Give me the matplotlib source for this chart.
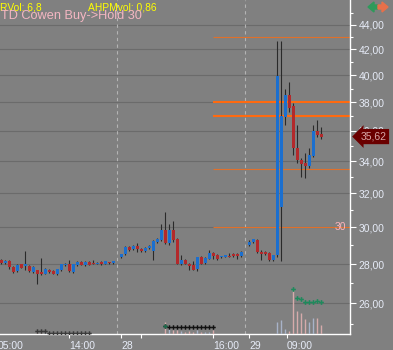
import numpy as np
import matplotlib
matplotlib.use("Agg")
import matplotlib.pyplot as plt
import matplotlib.transforms as mtransforms
from matplotlib.patches import FancyArrow

plt.rcParams['font.family'] = ['Liberation Sans', 'DejaVu Sans']

# --- day 1 (05:00 ... ) ---
o1 = [28.20, 28.05, 28.16, 27.84, 27.62, 27.98, 27.88, 27.90, 27.58, 27.67, 27.58, 27.50, 27.71, 27.63, 27.46,
      27.67, 27.93, 28.00, 27.58, 27.93, 28.10, 27.93, 28.10, 28.02, 28.00, 28.10, 28.00, 28.10, 28.03]
h1 = [28.26, 28.22, 28.20, 27.88, 27.98, 28.02, 28.69, 27.95, 27.90, 27.70, 28.32, 27.80, 27.76, 27.67, 27.76,
      28.02, 28.05, 28.20, 28.02, 28.16, 28.14, 28.14, 28.14, 28.20, 28.12, 28.14, 28.18, 28.12, 28.16]
l1 = [27.98, 27.98, 27.76, 27.55, 27.58, 27.78, 27.67, 27.58, 27.55, 26.98, 27.42, 27.46, 27.55, 27.46, 27.42,
      27.62, 27.90, 27.60, 27.55, 27.90, 27.93, 27.90, 27.93, 27.98, 27.98, 27.96, 27.98, 28.00, 28.00]
c1 = [28.05, 28.16, 27.84, 27.58, 27.93, 27.81, 27.98, 27.62, 27.84, 27.46, 27.50, 27.76, 27.58, 27.50, 27.73,
      27.98, 28.00, 27.63, 27.98, 28.10, 27.96, 28.10, 27.96, 28.00, 28.08, 28.00, 28.14, 28.03, 28.14]
vol1 = [0] * 9 + [1.6, 1.6, 1.8, 1.5, 1.5, 1.6, 1.5, 1.6, 1.5, 1.6, 1.5, 1.6, 1.5, 1.5] + [0] * 6
dots1 = [np.nan] * 9 + [3, 3, 3, 1.6, 1.6, 1.6, 1.6, 1.6, 1.6, 1.6, 1.6, 1.6, 1.6, 1.6] + [np.nan] * 6

# --- day 2 (28) ---
o2 = [28.38, 28.56, 28.92, 28.80, 28.97, 28.83, 28.70, 28.86, 28.70, 29.19, 29.29, 29.88, 29.14, 29.88, 29.38,
      27.98, 28.20, 28.02, 27.93, 27.73, 28.36, 28.05, 28.29, 28.59, 28.47, 28.35, 28.38, 28.40, 28.56, 28.56, 28.42]
h2 = [28.55, 28.95, 28.97, 29.02, 29.14, 28.86, 28.92, 29.00, 29.28, 29.42, 30.19, 30.88, 30.19, 30.38, 29.42,
      28.47, 28.26, 28.05, 28.16, 28.40, 28.42, 28.36, 28.74, 28.65, 28.52, 28.45, 28.50, 28.59, 28.60, 28.60, 28.70]
l2 = [28.32, 28.50, 28.70, 28.76, 28.65, 28.66, 28.66, 28.83, 28.20, 29.15, 29.25, 29.10, 29.05, 29.20, 27.98,
      27.95, 27.98, 27.67, 27.66, 27.62, 27.98, 27.98, 28.26, 28.28, 28.20, 28.32, 28.35, 28.36, 28.40, 28.29, 28.40]
c2 = [28.52, 28.92, 28.74, 28.97, 28.80, 28.70, 28.88, 28.97, 29.24, 29.38, 29.88, 29.14, 29.88, 29.29, 28.02,
      28.20, 28.02, 27.88, 27.71, 28.36, 28.02, 28.30, 28.59, 28.42, 28.29, 28.42, 28.47, 28.38, 28.42, 28.42, 28.65]
vol2 = [0] * 11 + [12.6, 6, 4, 4, 3, 2.5, 3, 2.5, 4, 2, 2, 2.5, 4] + [0] * 7
dots2 = [np.nan] * 11 + [8.3] + [7] * 12 + [np.nan] * 7

# --- day 3 (29) ---
o3 = [29.01, 29.19, 29.29, 28.65, 28.65, 28.59, 28.20, 28.47, 31.19, 36.98, 38.52, 37.73, 34.87, 34.11, 33.90,
      33.68, 34.33, 35.99, 35.80]
h3 = [29.28, 29.36, 29.33, 28.74, 28.68, 28.62, 28.50, 42.66, 42.66, 38.94, 39.46, 37.92, 36.40, 34.22, 34.50,
      34.83, 36.40, 36.75, 36.24]
l3 = [28.95, 29.15, 28.60, 28.20, 28.47, 28.16, 28.16, 28.38, 28.14, 36.40, 37.32, 34.39, 33.86, 33.01, 32.91,
      33.54, 34.28, 35.56, 35.45]
c3 = [29.19, 29.33, 28.65, 28.56, 28.52, 28.20, 28.47, 39.95, 37.02, 38.52, 37.61, 34.83, 34.07, 33.81, 33.68,
      34.39, 35.99, 35.71, 35.62]
vol3 = [0] * 7 + [12.6, 14.3, 5.3, 3.6, 44.3, 23.3, 21.6, 15, 12.6, 16.6, 16.6, 9.3]
dots3 = [np.nan] * 11 + [45, 36, 35, 32.6, 32, 32, 33, 32]

last_price = 35.62
levels_thick = [38.0, 37.0]
levels_thin = [43.0, 33.5, 30.0]
price_ticks = [26, 28, 30, 32, 34, 36, 38, 40, 42, 44]
minor_ticks = [25, 27, 29, 31, 33, 35, 37, 39, 41, 43, 45]
time_ticks = [17, 30, 35, 53, 62, 71.5]
time_labels = ['14:00', '28', '', '16:00', '29', '09:00']

BG = '#808080'
BLUE = '#1b6fcf'
RED = '#b3292b'
WICK = '#2a2a2a'
TXT = '#e6ebf7'

# positions, one empty slot between days
s2 = len(o1) + 1
s3 = s2 + len(o2) + 1
x = np.concatenate([np.arange(len(o1)), s2 + np.arange(len(o2)), s3 + np.arange(len(o3))])
o = np.array(o1 + o2 + o3)
h = np.array(h1 + h2 + h3)
l = np.array(l1 + l2 + l3)
c = np.array(c1 + c2 + c3)
vol = np.array(vol1 + vol2 + vol3, dtype=float)

fig = plt.figure(figsize=(3.93, 3.5), dpi=100, facecolor=BG)
ax = fig.add_axes([0.0, 15.7 / 350, 350 / 393, 334.3 / 350])
ax.set_facecolor(BG)
ax.set_yscale('log')
ax.set_ylim(24.52, 46.1)
ax.set_xlim(-0.25, 87.25)

ax.set_yticks(price_ticks)
ax.set_yticks(minor_ticks, minor=True)
ax.set_yticklabels([('%.2f' % v).replace('.', ',') for v in price_ticks])
ax.set_yticklabels([], minor=True)
ax.yaxis.tick_right()
ax.grid(axis='y', which='major', color='#6b6b6b', lw=0.8, zorder=0)
ax.set_axisbelow(True)
ax.tick_params(axis='y', which='major', length=4, width=0.8, color='white', labelcolor=TXT,
               labelsize=7.5, pad=2)
ax.tick_params(axis='y', which='minor', length=2.5, width=0.8, color='white')

ax.set_xticks(time_ticks)
ax.set_xticklabels(time_labels, ha='left')
ax.tick_params(axis='x', length=3, width=0.8, color='white', labelcolor=TXT, labelsize=7.5, pad=1.5)
ax.text(-0.75, -0.02, '05:00', transform=mtransforms.blended_transform_factory(ax.transData, ax.transAxes),
        ha='left', va='top', fontsize=7.5, color=TXT, clip_on=False)

for side in ['left', 'top']:
    ax.spines[side].set_visible(False)
for side in ['right', 'bottom']:
    ax.spines[side].set_color('white')
    ax.spines[side].set_linewidth(1)

# day separators
for sep in [s2 - 1, s3 - 1]:
    ax.axvline(sep, color='#b4b4b4', lw=0.8, ls=(0, (3, 3)), zorder=1)

# alert levels
ax.hlines(levels_thin, 53, 87.25, colors='#e0702a', lw=0.8, zorder=1)
ax.hlines(levels_thick, 53, 87.25, colors='#ff6a10', lw=1.5, zorder=1)
ax.text(0.99, 30.0, '30', transform=mtransforms.blended_transform_factory(ax.transAxes, ax.transData),
        ha='right', va='center', fontsize=7.5, color='#ffb4bc')

# candles
up = c >= o
bottom = np.minimum(o, c)
top = np.maximum(np.maximum(o, c), bottom * 1.0015)
ax.vlines(x, l, h, color=WICK, lw=0.8, zorder=2)
ax.bar(x, top - bottom, bottom=bottom, width=0.75, color=np.where(up, BLUE, RED), linewidth=0, zorder=3)

# last price tag
ax.text(1.03, last_price, ('%.2f' % last_price).replace('.', ','),
        transform=mtransforms.blended_transform_factory(ax.transAxes, ax.transData),
        ha='left', va='center', fontsize=7.5, color='#d9a9a9', clip_on=False, zorder=10,
        bbox=dict(boxstyle='larrow,pad=0.25', fc='#6a0000', ec='none'))

# volume / indicator overlay
ax2 = fig.add_axes(ax.get_position(), sharex=ax)
ax2.set_ylim(0, 334.3)
ax2.axis('off')
mask = vol > 0
ax2.vlines(x[mask], 0, vol[mask], colors=np.where(up[mask], '#a8b3c8', '#d6abab'), lw=1)
ax2.plot(x[:len(o1)], dots1, ls='none', marker='P', ms=3.2, mew=0, color='#3a3a3a')
ax2.plot(s2 + np.arange(len(o2)), dots2, ls='none', marker='P', ms=3.2, mew=0, color='#101010')
ax2.plot([s2 + 11], [dots2[11]], ls='none', marker='P', ms=3.2, mew=0, color='#1a6b4a')
ax2.plot(s3 + np.arange(len(o3)), dots3, ls='none', marker='P', ms=3.4, mew=0, color='#1e8a5c')

# header texts
fig.text(0.5 / 393, 1 - 7.5 / 350, 'RVol: 6,8', ha='left', va='center', fontsize=7.4, color='#ffff00')
fig.text(88 / 393, 1 - 7.5 / 350, 'AHPMvol: 0,86', ha='left', va='center', fontsize=7.4, color='#ffff00')
fig.text(1 / 393, 1 - 16 / 350, 'TD Cowen Buy->Hold 30', ha='left', va='center', fontsize=9.2, color='#f4b6c2')

# little arrows icon top right
fig.patches.append(FancyArrow(378 / 393, 1 - 7 / 350, -4 / 393, 0, width=4 / 350, head_width=10 / 350,
                              head_length=6 / 393, length_includes_head=False, color='#2e9a5a',
                              transform=fig.transFigure, figure=fig))
fig.patches.append(FancyArrow(378 / 393, 1 - 7 / 350, 4 / 393, 0, width=4 / 350, head_width=10 / 350,
                              head_length=6 / 393, length_includes_head=False, color='#e8704a',
                              transform=fig.transFigure, figure=fig))

fig.savefig('out.png', dpi=100, facecolor=BG)
